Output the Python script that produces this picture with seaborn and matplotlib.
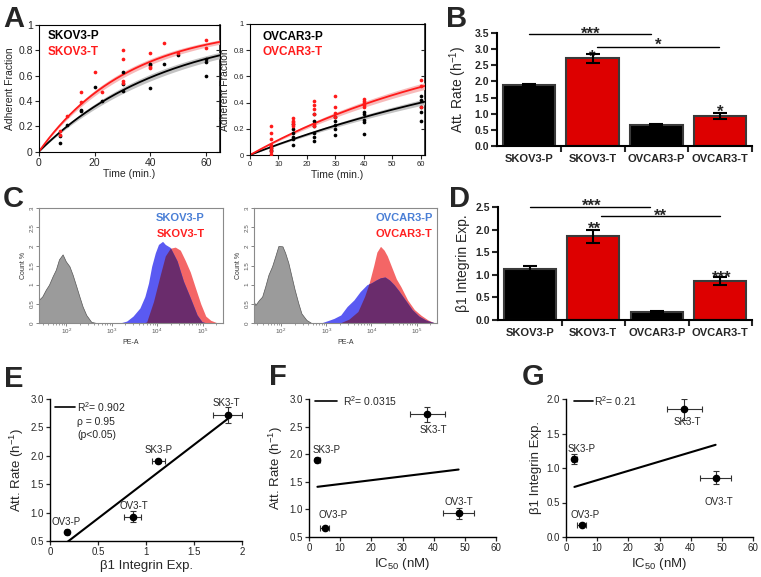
import numpy as np
import pandas as pd
import matplotlib
matplotlib.use("Agg")
import matplotlib.pyplot as plt
import seaborn as sns

sns.set_theme(style="ticks")
plt.rcParams['font.family'] = ['Liberation Sans', 'DejaVu Sans']
plt.rcParams['mathtext.fontset'] = 'custom'
plt.rcParams['mathtext.rm'] = 'Liberation Sans'
plt.rcParams['mathtext.it'] = 'Liberation Sans:italic'
plt.rcParams['mathtext.bf'] = 'Liberation Sans:bold'

# ---------------- data ----------------
# Panel A (left): SKOV3 adhesion time course
skov_p_t = [7.5, 7.5, 10, 15, 15, 20, 22.5, 30, 30, 30, 40, 40, 40, 45, 50, 60, 60, 60]
skov_p_y = [0.07, 0.12, 0.21, 0.33, 0.32, 0.51, 0.40, 0.63, 0.53, 0.48, 0.69, 0.68, 0.50, 0.69, 0.76, 0.73, 0.71, 0.60]
skov_t_t = [7.5, 7.5, 10, 15, 15, 20, 22.5, 30, 30, 30, 30, 40, 40, 40, 45, 50, 60, 60]
skov_t_y = [0.16, 0.13, 0.28, 0.47, 0.39, 0.63, 0.47, 0.80, 0.73, 0.56, 0.54, 0.78, 0.67, 0.66, 0.86, 0.78, 0.88, 0.82]
# Panel A (right): OVCAR3 adhesion time course
ov_p_t = [7.5] * 4 + [15] * 6 + [22.5] * 6 + [30] * 5 + [40] * 5 + [60] * 5
ov_p_y = [0.07, 0.05, 0.04, 0.03,
          0.24, 0.20, 0.17, 0.14, 0.12, 0.08,
          0.31, 0.26, 0.22, 0.17, 0.14, 0.11,
          0.29, 0.26, 0.23, 0.20, 0.15,
          0.33, 0.31, 0.27, 0.25, 0.16,
          0.45, 0.42, 0.37, 0.33, 0.26]
ov_t_t = [7.5] * 7 + [15] * 5 + [22.5] * 6 + [30] * 4 + [40] * 5 + [60] * 3
ov_t_y = [0.22, 0.17, 0.12, 0.08, 0.05, 0.03, 0.01,
          0.28, 0.26, 0.25, 0.24, 0.22,
          0.41, 0.38, 0.35, 0.31, 0.24, 0.22,
          0.45, 0.37, 0.32, 0.29,
          0.43, 0.41, 0.40, 0.38, 0.37,
          0.57, 0.53, 0.37]
# fitted first-order attachment constants (per min) and their uncertainty
k_skov_p, dk_skov_p = 0.0220, 0.0016
k_skov_t, dk_skov_t = 0.0310, 0.0020
k_ov_p, dk_ov_p = 0.0085, 0.0006
k_ov_t, dk_ov_t = 0.0122, 0.0009

# Panels B / D
cells = ['SKOV3-P', 'SKOV3-T', 'OVCAR3-P', 'OVCAR3-T']
att_rate = [1.90, 2.72, 0.66, 0.93]
att_err = [0.03, 0.14, 0.02, 0.10]
beta1 = [1.13, 1.85, 0.18, 0.86]
beta1_err = [0.07, 0.15, 0.02, 0.09]

# Panels E / F / G
short_names = ['SK3-P', 'SK3-T', 'OV3-P', 'OV3-T']
ic50 = [2.7, 38.0, 5.0, 48.0]
ic50_err = [0.8, 5.5, 1.5, 5.0]
r2_e, rho_e = '0.902', '0.95'
r2_f = '0.0315'
r2_g = '0.21'

# Panel C: flow cytometry histograms (log10 PE-A, Count %)
skov_iso_x = [1.40, 1.47, 1.55, 1.62, 1.70, 1.77, 1.84, 1.92, 1.99, 2.07, 2.14, 2.22, 2.29, 2.36, 2.44, 2.55, 2.66]
skov_iso_h = [0.61, 0.69, 0.87, 1.00, 1.22, 1.39, 1.66, 1.79, 1.61, 1.48, 1.26, 0.96, 0.69, 0.43, 0.21, 0.03, 0.0]
skov_p_x = [3.18, 3.33, 3.47, 3.62, 3.73, 3.81, 3.88, 3.96, 4.03, 4.12, 4.18, 4.29, 4.44, 4.58, 4.73, 4.88, 4.99, 5.10]
skov_p_h = [0.0, 0.05, 0.18, 0.39, 0.69, 1.04, 1.48, 1.83, 2.05, 2.13, 2.05, 1.97, 1.62, 1.09, 0.66, 0.21, 0.03, 0.0]
skov_t_x = [3.70, 3.77, 3.92, 4.07, 4.18, 4.29, 4.40, 4.51, 4.62, 4.73, 4.84, 4.96, 5.07, 5.18, 5.33]
skov_t_h = [0.0, 0.03, 0.56, 1.26, 1.75, 1.95, 1.98, 1.90, 1.63, 1.33, 0.93, 0.50, 0.18, 0.07, 0.0]
ov_iso_x = [1.40, 1.43, 1.51, 1.58, 1.65, 1.72, 1.80, 1.87, 1.94, 2.03, 2.09, 2.16, 2.23, 2.30, 2.38, 2.45, 2.56, 2.67]
ov_iso_h = [0.55, 0.47, 0.60, 0.69, 0.96, 1.26, 1.48, 1.74, 2.01, 2.00, 1.83, 1.57, 1.22, 0.87, 0.52, 0.25, 0.08, 0.0]
ov_p_x = [2.88, 3.03, 3.17, 3.32, 3.46, 3.61, 3.75, 3.90, 4.00, 4.10, 4.20, 4.30, 4.40, 4.50, 4.60, 4.75, 4.90, 5.05, 5.20, 5.35, 5.45]
ov_p_h = [0.0, 0.06, 0.12, 0.21, 0.43, 0.60, 0.82, 1.00, 1.05, 1.12, 1.18, 1.20, 1.12, 1.00, 0.85, 0.60, 0.35, 0.18, 0.08, 0.02, 0.0]
ov_t_x = [3.30, 3.50, 3.70, 3.85, 3.95, 4.05, 4.12, 4.20, 4.28, 4.35, 4.45, 4.55, 4.65, 4.80, 4.95, 5.10, 5.25, 5.40]
ov_t_h = [0.0, 0.10, 0.30, 0.70, 1.05, 1.50, 1.85, 2.00, 1.90, 1.75, 1.45, 1.15, 0.95, 0.60, 0.35, 0.20, 0.08, 0.0]

# ---------------- layout helpers ----------------
W, H = 761, 577
fig = plt.figure(figsize=(W / 100, H / 100), dpi=100)


def add_ax(x0, y0, x1, y1):
    return fig.add_axes([x0 / W, 1 - y1 / H, (x1 - x0) / W, (y1 - y0) / H])


def panel_letter(x, y_base, s):
    fig.text(x / W, 1 - y_base / H, s, fontsize=21, fontweight='bold', va='baseline', ha='left')


RED_L = '#ff1a1a'


def attach_panel(ax, tp, yp, tt, yt, kp, kt, xmax, xticks, names, fs_tick, fs_lab, name_pos):
    t_fit = np.linspace(0, xmax, 300)
    for (k, dk), col, band in [(kp, 'black', '#bdbdbd'), (kt, RED_L, '#f7b4b4')]:
        f = 1 - np.exp(-k * t_fit)
        lo = 1 - np.exp(-(k - dk) * t_fit)
        hi = 1 - np.exp(-(k + dk) * t_fit)
        ax.fill_between(t_fit, lo, hi, color=band, lw=0, alpha=0.9)
        sns.lineplot(x=t_fit, y=f, color=col, lw=1.3, ax=ax)
    for t, y, col in [(tp, yp, 'black'), (tt, yt, RED_L)]:
        sns.scatterplot(x=t, y=y, color=col, s=7, linewidth=0, ax=ax, zorder=5)
    ax.set_xlim(0, xmax)
    ax.set_ylim(0, 1)
    ax.set_xticks(xticks)
    ax.set_xticklabels([str(v) for v in xticks])
    yt_ = [0, 0.2, 0.4, 0.6, 0.8, 1.0]
    ax.set_yticks(yt_)
    ax.set_yticklabels(['0', '0.2', '0.4', '0.6', '0.8', '1'])
    ax.tick_params(labelsize=fs_tick, length=3, width=0.8, pad=1.5, direction='out')
    for sp in ax.spines.values():
        sp.set_visible(True)
        sp.set_linewidth(0.8)
        sp.set_color('black')
    sec = ax.secondary_yaxis('right')
    sec.set_yticks(yt_)
    sec.tick_params(direction='in', length=3, width=0.8, labelright=False)
    ax.set_xlabel('Time (min.)', fontsize=fs_lab, labelpad=1)
    ax.set_ylabel('Adherent Fraction', fontsize=fs_lab, labelpad=2)
    ax.text(name_pos[0], name_pos[1], names[0], transform=ax.transAxes, fontsize=8.5,
            fontweight='bold', color='black', va='center')
    ax.text(name_pos[0], name_pos[2], names[1], transform=ax.transAxes, fontsize=8.5,
            fontweight='bold', color=RED_L, va='center')


# ---------------- Panel A ----------------
axA1 = add_ax(39, 25, 220, 151.5)
attach_panel(axA1, skov_p_t, skov_p_y, skov_t_t, skov_t_y, (k_skov_p, dk_skov_p), (k_skov_t, dk_skov_t),
             65, [0, 20, 40, 60], ['SKOV3-P', 'SKOV3-T'], 7.5, 7.5, (0.05, 0.913, 0.787))
axA2 = add_ax(250, 24, 425, 155)
attach_panel(axA2, ov_p_t, ov_p_y, ov_t_t, ov_t_y, (k_ov_p, dk_ov_p), (k_ov_t, dk_ov_t),
             61.5, [0, 10, 20, 30, 40, 50, 60], ['OVCAR3-P', 'OVCAR3-T'], 5.5, 7.5, (0.07, 0.90, 0.786))

# ---------------- Bar panels B / D ----------------
bar_colors = ['black', '#dd0000', 'black', '#dd0000']


def star(ax, x, yc, s, fs=12):
    ax.annotate(s, (x, yc), xytext=(0, -0.60 * fs), textcoords='offset points',
                ha='center', va='baseline', fontsize=fs, fontweight='bold', annotation_clip=False)


def bar_panel(ax, vals, errs, ylim, yticks, ylabel):
    sns.barplot(x=cells, y=vals, hue=cells, palette=bar_colors, legend=False, width=0.82,
                saturation=1, edgecolor='#3a3a3a', linewidth=1.5, errorbar=None, ax=ax)
    ax.errorbar(np.arange(4), vals, yerr=errs, fmt='none', ecolor='black',
                elinewidth=1.5, capsize=5, capthick=1.5, zorder=5)
    ax.set_xlim(-0.5, 3.5)
    ax.set_ylim(*ylim)
    ax.set_yticks(yticks)
    ax.set_yticklabels(['%.1f' % v for v in yticks], fontweight='bold')
    ax.set_xticks(range(4))
    ax.set_xticklabels(cells, fontweight='bold')
    ax.set_xticks([0.5, 1.5, 2.5, 3.5], minor=True)
    ax.tick_params(axis='x', which='major', length=0, labelsize=8, pad=6)
    ax.tick_params(axis='x', which='minor', length=4, width=1.5, direction='out')
    ax.tick_params(axis='y', length=4, width=1.5, labelsize=7.5, pad=1.5)
    sns.despine(ax=ax)
    for sp in ['left', 'bottom']:
        ax.spines[sp].set_linewidth(1.5)
        ax.spines[sp].set_color('black')
    ax.set_ylabel(ylabel, fontsize=10, labelpad=4)
    ax.set_xlabel('')


axB = add_ax(497, 33, 752, 146)
bar_panel(axB, att_rate, att_err, (0, 3.5), [0, 0.5, 1, 1.5, 2, 2.5, 3, 3.5], 'Att. Rate (h$^{-1}$)')
axB.plot([0.0, 1.92], [3.46, 3.46], color='black', lw=1, clip_on=False)
axB.plot([1.07, 2.99], [3.08, 3.08], color='black', lw=1, clip_on=False)
star(axB, 0.97, 3.62, '***')
star(axB, 2.03, 3.28, '*')
star(axB, 1.0, 2.92, '*')
star(axB, 3.0, 1.22, '*')

axD = add_ax(498, 207, 752, 320)
bar_panel(axD, beta1, beta1_err, (0, 2.5), [0, 0.5, 1, 1.5, 2, 2.5], 'β1 Integrin Exp.')
axD.plot([0.0, 1.9], [2.49, 2.49], color='black', lw=1, clip_on=False)
axD.plot([1.12, 2.99], [2.29, 2.29], color='black', lw=1, clip_on=False)
star(axD, 0.97, 2.64, '***')
star(axD, 2.06, 2.42, '**')
star(axD, 1.02, 2.13, '**')
star(axD, 3.03, 1.05, '***')

# ---------------- Panel C ----------------
BLUE_F, RED_F, PURP_F = '#5a5af2', '#f46666', '#6a2c6c'


def hist_panel(ax, gx, gh, bx, bh, rx, rh, labels):
    ax.fill_between(gx, 0, gh, facecolor='#9b9b9b', edgecolor='#555555', lw=0.5)
    grid = np.linspace(1.4, 5.45, 900)
    b = np.interp(grid, bx, bh, left=0, right=0)
    r = np.interp(grid, rx, rh, left=0, right=0)
    ax.fill_between(grid, 0, r, color=RED_F, lw=0)
    ax.fill_between(grid, 0, b, color=BLUE_F, lw=0)
    ax.fill_between(grid, 0, np.minimum(b, r), color=PURP_F, lw=0)
    ax.set_xlim(1.4, 5.45)
    ax.set_ylim(0, 3)
    ax.set_xticks([2, 3, 4, 5])
    ax.set_xticklabels(['$10^{2}$', '$10^{3}$', '$10^{4}$', '$10^{5}$'])
    minors = [n + np.log10(m) for n in [1, 2, 3, 4, 5] for m in range(2, 10)
              if 1.4 <= n + np.log10(m) <= 5.45]
    ax.set_xticks(minors, minor=True)
    ax.set_yticks([0, 0.5, 1, 1.5, 2, 2.5, 3])
    ax.set_yticklabels(['0', '0.5', '1', '1.5', '2', '2.5', '3'], rotation=90, va='center')
    ax.tick_params(labelsize=4.5, length=2, width=0.5, pad=1, colors='#555555')
    ax.tick_params(which='minor', length=1.2, width=0.4, colors='#555555')
    for sp in ax.spines.values():
        sp.set_visible(True)
        sp.set_color('#8a8a8a')
        sp.set_linewidth(0.8)
    ax.set_xlabel('PE-A', fontsize=5, labelpad=2, color='#333333')
    ax.set_ylabel('Count %', fontsize=5, labelpad=2, color='#333333')
    ax.text(labels[2], 0.913, labels[0], transform=ax.transAxes, ha='right', va='center',
            fontsize=8, fontweight='bold', color='#4a7fd6')
    ax.text(labels[2], 0.774, labels[1], transform=ax.transAxes, ha='right', va='center',
            fontsize=8, fontweight='bold', color='#ff2020')


axC1 = add_ax(39, 208, 223, 323)
hist_panel(axC1, skov_iso_x, skov_iso_h, skov_p_x, skov_p_h, skov_t_x, skov_t_h,
           ('SKOV3-P', 'SKOV3-T', 0.90))
axC2 = add_ax(254, 208, 437, 323)
hist_panel(axC2, ov_iso_x, ov_iso_h, ov_p_x, ov_p_h, ov_t_x, ov_t_h,
           ('OVCAR3-P', 'OVCAR3-T', 0.975))

# ---------------- Panels E / F / G ----------------


def corr_panel(ax, x, y, xerr, yerr, xlim, ylim, xticks, xtl, yticks, xlabel, ylabel,
               leg_line, leg_texts, name_pos):
    sns.regplot(x=np.array(x), y=np.array(y), ci=None, scatter=False, truncate=True,
                line_kws=dict(color='black', lw=1.5), ax=ax)
    ax.errorbar(x, y, xerr=xerr, yerr=yerr, fmt='o', color='black', ms=4.5,
                ecolor='#333333', elinewidth=0.8, capsize=2.5, capthick=0.8, zorder=5)
    ax.set_xlim(*xlim)
    ax.set_ylim(*ylim)
    ax.set_xticks(xticks)
    ax.set_xticklabels(xtl)
    ax.set_yticks(yticks)
    ax.set_yticklabels(['%.1f' % v for v in yticks])
    ax.tick_params(labelsize=7, length=3, width=0.9, pad=1.5, direction='out')
    sns.despine(ax=ax)
    for sp in ['left', 'bottom']:
        ax.spines[sp].set_linewidth(1.0)
        ax.spines[sp].set_color('black')
    ax.set_xlabel(xlabel, fontsize=9.5, labelpad=2)
    ax.set_ylabel(ylabel, fontsize=9.5, labelpad=3)
    ax.plot(leg_line[0], leg_line[1], color='black', lw=1.2, clip_on=False)
    for (tx, ty, s) in leg_texts:
        ax.text(tx, ty, s, fontsize=7.5, va='center', ha='left')
    for (nx, ny), s in zip(name_pos, short_names):
        ax.text(nx, ny, s, fontsize=7, ha='center', va='center')


axE = add_ax(50, 399, 242, 541)
corr_panel(axE, beta1, att_rate, beta1_err, att_err, (0, 2), (0.5, 3.0),
           [0, 0.5, 1, 1.5, 2], ['0', '0.5', '1', '1.5', '2'], [0.5, 1.0, 1.5, 2.0, 2.5, 3.0],
           'β1 Integrin Exp.', 'Att. Rate (h$^{-1}$)',
           ([0.05, 0.26], [2.86, 2.86]),
           [(0.28, 2.86, 'R$^{2}$= ' + r2_e), (0.28, 2.60, 'ρ = ' + rho_e), (0.29, 2.37, '(p<0.05)')],
           [(1.13, 2.10), (1.84, 2.93), (0.17, 0.83), (0.87, 1.12)])

axF = add_ax(309, 399, 496, 537)
corr_panel(axF, ic50, att_rate, ic50_err, att_err, (0, 60), (0.5, 3.0),
           [0, 10, 20, 30, 40, 50, 60], ['0', '10', '20', '30', '40', '50', '60'],
           [0.5, 1.0, 1.5, 2.0, 2.5, 3.0],
           'IC$_{50}$ (nM)', 'Att. Rate (h$^{-1}$)',
           ([2, 9], [2.96, 2.96]),
           [(11, 2.96, 'R$^{2}$= ' + r2_f)],
           [(5.7, 2.08), (39.8, 2.44), (7.7, 0.90), (48.0, 1.13)])

axG = add_ax(566, 399, 753, 537)
corr_panel(axG, ic50, beta1, ic50_err, beta1_err, (0, 60), (0, 2.0),
           [0, 10, 20, 30, 40, 50, 60], ['0', '10', '20', '30', '40', '50', '60'],
           [0.0, 0.5, 1.0, 1.5, 2.0],
           'IC$_{50}$ (nM)', 'β1 Integrin Exp.',
           ([2.6, 8.7], [1.97, 1.97]),
           [(9.1, 1.97, 'R$^{2}$= ' + r2_g)],
           [(5.1, 1.28), (38.8, 1.67), (6.1, 0.32), (49.0, 0.51)])

# ---------------- Panel letters ----------------
panel_letter(3, 27, 'A')
panel_letter(446, 27, 'B')
panel_letter(3, 207, 'C')
panel_letter(449, 207, 'D')
panel_letter(4, 387, 'E')
panel_letter(269, 385, 'F')
panel_letter(522, 385, 'G')

fig.savefig('out.png', dpi=100)
